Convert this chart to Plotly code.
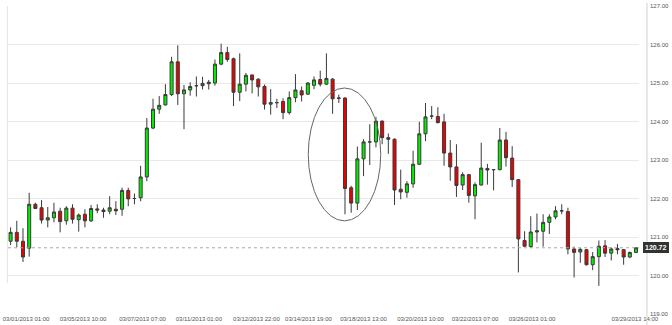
import plotly.graph_objects as go

# ---- data ----
opens = [120.89, 121.12, 120.89, 120.71, 121.85, 121.76, 121.44, 121.50, 121.67, 121.42,
         121.75, 121.45, 121.59, 121.42, 121.73, 121.70, 121.67, 121.72, 121.72, 122.21,
         122.00, 122.02, 122.56, 123.83, 124.32, 124.43, 124.70, 125.55, 124.72, 124.82,
         124.93, 124.93, 124.98, 125.00, 125.49, 125.79, 125.63, 124.76, 124.97, 125.21,
         125.10, 124.91, 124.45, 124.49, 124.52, 124.23, 124.62, 124.80, 124.71, 124.94,
         125.09, 124.97, 125.10, 124.60, 124.61, 122.28, 121.88, 123.03, 123.47, 123.47,
         124.01, 123.58, 123.54, 122.24, 122.16, 122.38, 122.89, 123.68, 124.14, 124.13,
         123.99, 123.18, 122.82, 122.35, 122.62, 122.07, 122.35, 122.78, 122.75, 122.75,
         123.52, 123.05, 122.49, 120.91, 120.75, 121.13, 121.15, 121.38, 121.52, 121.68,
         121.66, 120.69, 120.61, 120.67, 120.28, 120.49, 120.77, 120.58, 120.70, 120.67,
         120.48, 120.60]
highs = [121.25, 121.42, 121.23, 122.15, 121.89, 121.96, 121.78, 121.89, 121.76, 121.80,
         121.85, 121.61, 121.72, 121.83, 121.85, 121.76, 122.06, 121.93, 122.28, 122.28,
         122.13, 122.85, 124.09, 124.59, 124.66, 124.97, 125.68, 125.98, 124.95, 125.02,
         125.17, 125.16, 125.08, 125.61, 126.02, 125.94, 125.66, 125.77, 125.26, 125.21,
         125.12, 124.96, 124.84, 124.59, 124.60, 124.78, 125.23, 124.91, 125.02, 125.17,
         125.32, 125.77, 125.13, 124.70, 124.63, 122.33, 123.35, 123.54, 123.93, 124.12,
         124.03, 123.69, 123.56, 122.75, 122.45, 123.24, 123.99, 124.48, 124.40, 124.37,
         124.20, 123.52, 123.41, 122.68, 122.64, 122.42, 123.45, 122.90, 122.76, 123.83,
         123.73, 123.36, 122.49, 121.15, 121.54, 121.61, 121.59, 121.59, 121.80, 121.85,
         121.76, 120.75, 120.72, 120.69, 120.61, 120.91, 120.92, 120.73, 120.82, 120.69,
         120.62, 120.72]
lows = [120.79, 120.73, 120.35, 120.49, 121.74, 121.35, 121.25, 121.38, 121.12, 121.32,
        121.35, 121.14, 121.25, 121.39, 121.62, 121.50, 121.59, 121.57, 121.55, 121.80,
        121.85, 121.93, 122.45, 123.80, 124.20, 124.42, 124.66, 124.43, 123.80, 124.67,
        124.65, 124.83, 124.83, 124.93, 125.46, 125.55, 124.40, 124.53, 124.78, 124.73,
        124.65, 124.31, 124.18, 124.35, 124.06, 124.18, 124.50, 124.52, 124.69, 124.84,
        124.91, 124.95, 124.20, 124.48, 121.59, 121.63, 121.70, 122.58, 122.87, 123.33,
        123.41, 123.16, 121.83, 121.98, 122.02, 122.28, 122.87, 123.49, 124.06, 123.95,
        122.85, 122.46, 122.04, 122.22, 121.89, 121.46, 122.34, 122.36, 122.21, 122.73,
        122.83, 122.30, 120.08, 120.76, 120.72, 120.86, 120.75, 121.08, 121.46, 121.59,
        120.55, 119.95, 120.33, 120.26, 120.14, 119.73, 120.48, 120.39, 120.55, 120.28,
        120.45, 120.58]
closes = [121.12, 120.89, 120.48, 121.85, 121.74, 121.44, 121.50, 121.65, 121.40, 121.75,
          121.46, 121.57, 121.42, 121.74, 121.70, 121.66, 121.76, 121.68, 122.21, 121.99,
          122.00, 122.56, 123.83, 124.32, 124.42, 124.70, 125.55, 124.72, 124.82, 124.91,
          124.93, 124.99, 125.02, 125.49, 125.79, 125.61, 124.76, 124.97, 125.20, 125.08,
          124.90, 124.45, 124.49, 124.49, 124.23, 124.62, 124.82, 124.69, 125.00, 125.08,
          124.97, 125.12, 124.59, 124.61, 122.26, 121.88, 123.03, 123.47, 123.47, 124.01,
          123.58, 123.54, 122.22, 122.17, 122.38, 122.89, 123.68, 124.12, 124.14, 123.97,
          123.18, 122.82, 122.34, 122.62, 122.08, 122.36, 122.79, 122.74, 122.75, 123.52,
          123.06, 122.49, 120.95, 120.76, 121.13, 121.16, 121.38, 121.52, 121.68, 121.68,
          120.69, 120.60, 120.68, 120.28, 120.49, 120.76, 120.58, 120.69, 120.67, 120.48,
          120.60, 120.72]
candle_idx = list(range(len(opens)))

tick_labels = ["03/01/2013 01:00", "03/05/2013 10:00", "03/07/2013 07:00", "03/11/2013 01:00",
               "03/12/2013 22:00", "03/14/2013 19:00", "03/18/2013 13:00", "03/20/2013 10:00",
               "03/22/2013 07:00", "03/26/2013 01:00", "03/29/2013 14:00"]
tick_pos = [2.5, 11.7, 21.3, 30.4, 39.7, 48.1, 57.0, 66.2, 75.0, 84.2, 100.8]
y_ticks = [119, 120, 121, 122, 123, 124, 125, 126, 127]
last_price = closes[-1]

fig = go.Figure(go.Candlestick(
    x=candle_idx, open=opens, high=highs, low=lows, close=closes,
    increasing=dict(fillcolor="#00ee00", line=dict(color="#3a3a3a", width=1)),
    decreasing=dict(fillcolor="#ee0000", line=dict(color="#3a3a3a", width=1)),
    whiskerwidth=0, showlegend=False, hoverinfo="skip",
))

fig.update_layout(
    width=672, height=325, autosize=False,
    margin=dict(l=6, r=31, t=3, b=11),
    paper_bgcolor="white", plot_bgcolor="white",
    font=dict(family="Liberation Sans, Arial, sans-serif", size=6, color="#555555"),
    xaxis=dict(range=[-0.42, 101.48], rangeslider=dict(visible=False),
               tickvals=tick_pos, ticktext=tick_labels, showgrid=False, zeroline=False,
               showline=False, ticks="", tickfont=dict(size=6, color="#555555")),
    yaxis=dict(range=[119, 127], side="right", tickvals=y_ticks, tickformat=".2f",
               showgrid=True, gridcolor="#e9e9e9", gridwidth=1, zeroline=False,
               showline=False, ticks="", ticklabelstandoff=10,
               tickfont=dict(size=6, color="#555555")),
    shapes=[
        dict(type="line", xref="paper", yref="paper", x0=1.0126, x1=1.0126, y0=-0.04, y1=1.01,
             line=dict(color="#d0d0d0", width=1)),
        dict(type="line", xref="paper", yref="paper", x0=-0.001, x1=-0.001, y0=0.1, y1=1.0,
             line=dict(color="#e4e4e4", width=1)),
        dict(type="line", xref="paper", yref="y", x0=0, x1=1, y0=last_price, y1=last_price,
             line=dict(color="#aaaaaa", width=1, dash="dot")),
        dict(type="circle", xref="x", yref="y", x0=48.07, x1=59.77, y0=121.42, y1=124.87,
             line=dict(color="#666666", width=1)),
    ],
    annotations=[
        dict(xref="paper", yref="y", x=1.006, y=last_price, xanchor="left", yanchor="middle",
             text="<b>%.2f</b>" % last_price, showarrow=False, bgcolor="#333333",
             bordercolor="#333333", borderpad=1, font=dict(color="white", size=7)),
    ],
)

fig.write_html("out.html")
